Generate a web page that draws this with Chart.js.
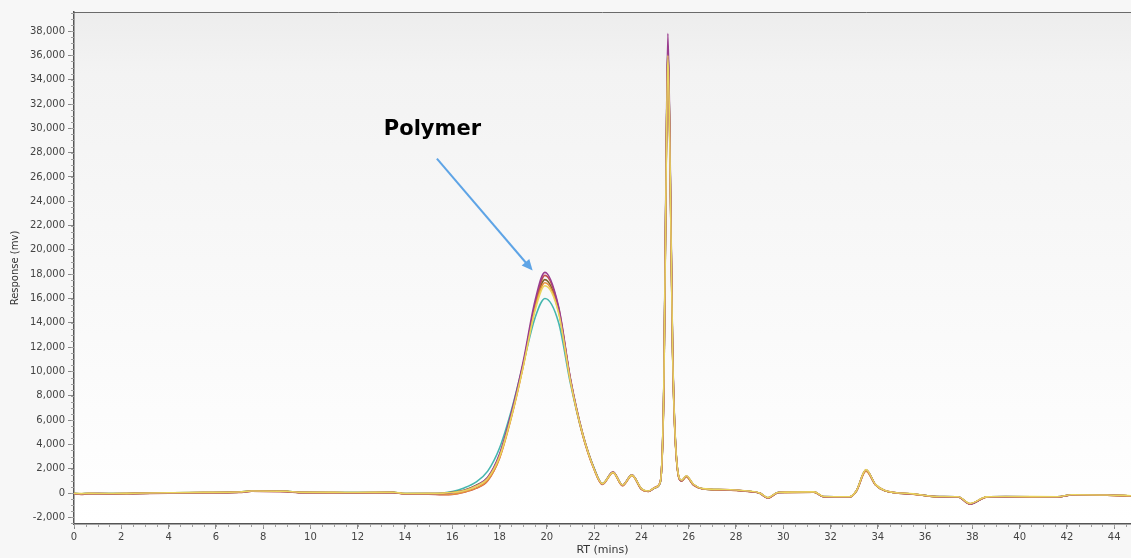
<!DOCTYPE html>
<html>
<head>
<meta charset="utf-8">
<title>RT chromatogram</title>
<script src="https://cdn.jsdelivr.net/npm/chart.js@4/dist/chart.umd.min.js"></script>
<style>
  body { margin: 0; background: #f7f7f7; }
  #wrap { width: 1131px; height: 558px; position: relative; }
</style>
</head>
<body>
<div id="wrap"><canvas id="chrom"></canvas></div>
<script>
// temps de retention (min), commun a toutes les injections
const RT = [0, 0.3, 0.6, 1.5, 2.5, 4, 5.5, 7, 7.5, 9, 9.5, 11, 12, 13.5, 14, 15, 15.6, 16, 16.5, 17,
  17.5, 18, 18.5, 19, 19.5, 19.92, 20.5, 21, 21.5, 22, 22.35, 22.8, 23.2, 23.6, 24.0, 24.3, 24.6, 24.8, 24.95, 25.05,
  25.12, 25.2, 25.32, 25.5, 25.7, 25.9, 26.2, 26.6, 27.5, 28.5, 29.0, 29.35, 29.8, 31.3, 31.7, 32.8, 33.1, 33.5, 33.9, 34.3,
  35.5, 36.6, 37.4, 37.9, 38.6, 39.4, 41.6, 42.2, 43.7, 44.71];

// reponses (mv), une liste par injection
const purple = [-50, -80, -50, -60, -40, 0, 30, 60, 150, 120, 40, 30, 20, 40, -60, -50, -30, 30, 200, 600,
  1300, 3200, 6600, 10800, 15800, 18150, 15300, 9400, 5000, 2000, 750, 1750, 650, 1500, 350, 150, 450, 900, 9000, 28000,
  37800, 30000, 12000, 2500, 1000, 1400, 700, 350, 280, 150, 0, -400, 50, 80, -300, -320, 200, 1900, 700, 200,
  -80, -300, -320, -900, -330, -300, -320, -150, -170, -230];
const red = [-60, -120, -60, -70, -50, -10, 20, 50, 140, 110, 30, 20, 10, 30, -80, -90, -140, -120, 60, 380,
  1000, 2900, 6300, 10500, 15500, 17900, 15200, 9300, 4900, 1950, 700, 1700, 600, 1450, 300, 120, 500, 950, 8500, 27000,
  36500, 29000, 11500, 2400, 1000, 1350, 650, 330, 250, 130, -20, -420, 40, 70, -310, -330, 180, 1850, 680, 180,
  -90, -310, -330, -920, -340, -310, -330, -160, -180, -240];
const olive = [-40, -60, -40, -50, -30, 10, 40, 70, 160, 130, 50, 40, 30, 50, -50, -40, -20, 50, 230, 620,
  1250, 3100, 6400, 10600, 15400, 17550, 15000, 9300, 5000, 2000, 760, 1720, 640, 1480, 340, 140, 440, 880, 8800, 27500,
  36800, 29500, 11800, 2450, 1000, 1380, 680, 340, 270, 140, -10, -410, 45, 75, -305, -325, 190, 1880, 690, 190,
  -85, -305, -325, -890, -335, -305, -325, -155, -175, -235];
const orange = [-50, -90, -50, -60, -40, 0, 30, 60, 150, 120, 40, 30, 20, 40, -70, -80, -120, -100, 80, 400,
  1050, 2850, 6200, 10400, 15200, 17300, 14900, 9200, 4900, 1950, 720, 1680, 610, 1450, 320, 130, 480, 920, 8600, 27200,
  36600, 29200, 11600, 2400, 980, 1340, 660, 330, 260, 140, -10, -410, 40, 70, -310, -330, 170, 1800, 670, 180,
  -90, -310, -330, -880, -340, -310, -330, -160, -180, -240];
const yellow = [-30, -50, -30, -40, -20, 20, 50, 80, 170, 140, 60, 50, 40, 60, -40, -30, -10, 40, 190, 560,
  1200, 3000, 6300, 10400, 15000, 17050, 14800, 9200, 4950, 1980, 770, 1700, 660, 1470, 360, 160, 460, 900, 8900, 27000,
  36000, 29000, 11700, 2500, 1050, 1420, 720, 360, 290, 160, 10, -380, 60, 90, -290, -310, 210, 1920, 710, 210,
  -70, -290, -310, -860, -320, -290, -310, -140, -160, -220];
const teal = [-40, -70, -40, -50, -30, 10, 40, 70, 160, 130, 50, 40, 30, 50, -50, -40, 0, 120, 420, 900,
  1800, 3700, 6800, 10600, 14400, 16000, 14000, 9000, 4900, 2050, 780, 1700, 650, 1480, 340, 140, 450, 890, 8800, 27300,
  36800, 29300, 11700, 2450, 1000, 1380, 680, 340, 270, 140, -10, -400, 50, 80, -300, -320, 190, 1880, 690, 190,
  -80, -300, -320, -900, -330, -300, -320, -150, -170, -230];

const xTicks = [0, 2, 4, 6, 8, 10, 12, 14, 16, 18, 20, 22, 24, 26, 28, 30, 32, 34, 36, 38, 40, 42, 44];
const yTicks = [-2000, 0, 2000, 4000, 6000, 8000, 10000, 12000, 14000, 16000, 18000, 20000,
  22000, 24000, 26000, 28000, 30000, 32000, 34000, 36000, 38000];

// annotation "Polymer" en coordonnees des axes
const noteText = { x: 15.16, y: 29900 };
const noteArrow = { x1: 15.35, y1: 27500, x2: 19.4, y2: 18300 };

function points(ys) {
  var pts = [];
  for (let i = 0; i < RT.length; i++) {
    pts.push({ x: RT[i], y: ys[i] });
  }
  return pts;
}

function serie(ys, color) {
  return {
    data: points(ys),
    borderColor: color,
    borderWidth: 1.6,
    pointRadius: 0,
    fill: false,
    showLine: true,
    cubicInterpolationMode: 'monotone'
  };
}

// fond degrade de la zone de trace + cadre du haut
const fond = {
  id: 'fond',
  beforeDraw(chart) {
    const { ctx, chartArea: a } = chart;
    ctx.save();
    ctx.fillStyle = '#f7f7f7';
    ctx.fillRect(0, 0, chart.width, chart.height);
    const g = ctx.createLinearGradient(0, a.top, 0, a.bottom);
    g.addColorStop(0, '#ededed');
    g.addColorStop(0.12, '#f3f3f3');
    g.addColorStop(1, '#ffffff');
    ctx.fillStyle = g;
    ctx.fillRect(a.left, a.top, a.right - a.left, a.bottom - a.top);
    ctx.strokeStyle = '#6a6a6a';
    ctx.lineWidth = 1;
    ctx.beginPath();
    ctx.moveTo(a.left, a.top + 0.5);
    ctx.lineTo(a.right, a.top + 0.5);
    ctx.stroke();
    ctx.restore();
  }
};

// petites graduations secondaires + annotation
const mineures = {
  id: 'mineures',
  afterDraw(chart) {
    const { ctx, chartArea: a } = chart;
    const sx = chart.scales.x, sy = chart.scales.y;
    ctx.save();
    ctx.strokeStyle = '#a0a0a0';
    ctx.lineWidth = 1;
    ctx.beginPath();
    for (let v = 0; v <= sx.max; v += 0.5) {
      const px = Math.round(sx.getPixelForValue(v)) + 0.5;
      ctx.moveTo(px, a.bottom);
      ctx.lineTo(px, a.bottom + 3);
    }
    for (let v = -2500; v <= sy.max; v += 500) {
      const py = Math.round(sy.getPixelForValue(v)) + 0.5;
      ctx.moveTo(a.left - 3, py);
      ctx.lineTo(a.left, py);
    }
    ctx.stroke();

    const x1 = sx.getPixelForValue(noteArrow.x1), y1 = sy.getPixelForValue(noteArrow.y1);
    const x2 = sx.getPixelForValue(noteArrow.x2), y2 = sy.getPixelForValue(noteArrow.y2);
    const ang = Math.atan2(y2 - y1, x2 - x1);
    ctx.strokeStyle = '#5ea4e6';
    ctx.fillStyle = '#5ea4e6';
    ctx.lineWidth = 2;
    ctx.beginPath();
    ctx.moveTo(x1, y1);
    ctx.lineTo(x2 - 8 * Math.cos(ang), y2 - 8 * Math.sin(ang));
    ctx.stroke();
    ctx.beginPath();
    ctx.moveTo(x2, y2);
    ctx.lineTo(x2 - 11 * Math.cos(ang) + 5 * Math.sin(ang), y2 - 11 * Math.sin(ang) - 5 * Math.cos(ang));
    ctx.lineTo(x2 - 11 * Math.cos(ang) - 5 * Math.sin(ang), y2 - 11 * Math.sin(ang) + 5 * Math.cos(ang));
    ctx.closePath();
    ctx.fill();

    ctx.fillStyle = '#000000';
    ctx.font = 'bold 21px "DejaVu Sans"';
    ctx.textAlign = 'center';
    ctx.textBaseline = 'middle';
    ctx.fillText('Polymer', sx.getPixelForValue(noteText.x), sy.getPixelForValue(noteText.y));
    ctx.restore();
  }
};

var ctx = document.getElementById('chrom');
var myChart = new Chart(ctx, {
  type: 'scatter',
  data: {
    datasets: [
      serie(yellow, '#e9d45c'),
      serie(purple, '#9a3d8f'),
      serie(orange, '#e8923c'),
      serie(red, '#c2504a'),
      serie(olive, '#7c6428'),
      serie(teal, '#45b6ae')
    ]
  },
  options: {
    responsive: true,
    maintainAspectRatio: false,
    animation: false,
    layout: { padding: { top: 12, right: 0, left: 0, bottom: 0 } },
    plugins: { legend: { display: false }, tooltip: { enabled: false } },
    scales: {
      x: {
        type: 'linear',
        min: 0,
        max: 44.71,
        afterFit(scale) { scale.height = 34; },
        afterBuildTicks(scale) { scale.ticks = xTicks.map(v => ({ value: v })); },
        ticks: { font: { family: 'DejaVu Sans', size: 10 }, color: '#444', padding: 2, maxRotation: 0, autoSkip: false },
        grid: { drawOnChartArea: false, drawTicks: true, tickLength: 5, tickColor: '#8a8a8a' },
        border: { display: true, color: '#555', width: 1.5 },
        title: { display: true, text: 'RT (mins)', font: { family: 'DejaVu Sans', size: 11 }, color: '#333', padding: { top: 0, bottom: 1 } }
      },
      y: {
        min: -2550,
        max: 39570,
        afterFit(scale) { scale.width = 74; },
        afterBuildTicks(scale) { scale.ticks = yTicks.map(v => ({ value: v })); },
        ticks: {
          autoSkip: false,
          font: { family: 'DejaVu Sans', size: 10 },
          color: '#444',
          padding: 3,
          callback: (v) => v.toLocaleString('en-US')
        },
        grid: { drawOnChartArea: false, drawTicks: true, tickLength: 6, tickColor: '#8a8a8a' },
        border: { display: true, color: '#555', width: 1.5 },
        title: { display: true, text: 'Response (mv)', font: { family: 'DejaVu Sans', size: 10 }, color: '#333', padding: { top: 9, bottom: 0 } }
      }
    }
  },
  plugins: [fond, mineures]
});
</script>
</body>
</html>
